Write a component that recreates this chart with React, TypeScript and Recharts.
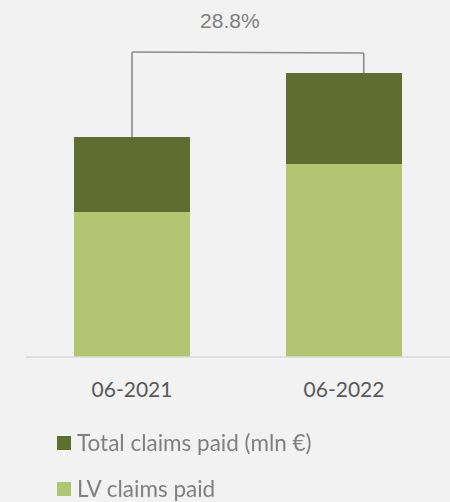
import React from "react";
import { BarChart, Bar, XAxis, YAxis, Legend } from "recharts";

const categories = ["06-2021", "06-2022"];
const lvClaimsPaid = [145, 193];
const totalClaimsPaidTop = [75, 91];
const growthLabel = "28.8%";
const bracketLevel = 305;

const seriesNames = {
  total: "Total claims paid (mln €)",
  lv: "LV claims paid",
};

const DARK = "#5F6D30";
const LIGHT = "#B3C473";
const GRAY = "#8C8C8C";

const data = categories.map((c, i) => ({
  category: c,
  lv: lvClaimsPaid[i],
  total: totalClaimsPaidTop[i],
}));

const W = 450;
const H = 502;
const AXIS_H = 30;
const MARGIN = { top: 57, right: 0, left: 26, bottom: 145 - AXIS_H };
const BAND = (W - MARGIN.left - MARGIN.right) / categories.length;

const BracketLabel = (props: any) => {
  const { x, y, width, height, index } = props;
  const segVal = totalClaimsPaidTop[index];
  const total = lvClaimsPaid[index] + segVal;
  const ppu = height / segVal;
  const by = y - (bracketLevel - total) * ppu;
  if (index === 0) {
    const cx = x + width / 2;
    return <line x1={cx} y1={y} x2={cx} y2={by} stroke={GRAY} strokeWidth={1.6} />;
  }
  const rx = x + width * 0.67;
  const lx = x + width / 2 - BAND;
  return (
    <g>
      <line x1={lx} y1={by} x2={rx} y2={by + 1} stroke={GRAY} strokeWidth={1.6} />
      <line x1={rx} y1={by + 1} x2={rx} y2={y} stroke={GRAY} strokeWidth={1.6} />
      <text
        x={(lx + rx) / 2 - 18}
        y={by - 24}
        textAnchor="middle"
        fill="#808080"
        fontFamily="Liberation Sans, Arial, sans-serif"
        fontSize={21}
      >
        {growthLabel}
      </text>
    </g>
  );
};

const LegendContent = () => {
  const items = [
    { name: seriesNames.total, color: DARK },
    { name: seriesNames.lv, color: LIGHT },
  ];
  return (
    <div>
      {items.map((it) => (
        <div
          key={it.name}
          style={{ display: "flex", alignItems: "center", height: 46, lineHeight: "24px", fontFamily: "Lato, sans-serif", fontSize: 22.5, color: "#7F7F7F" }}
        >
          <span style={{ display: "inline-block", width: 14, height: 14, background: it.color, marginRight: 6 }} />
          <span>{it.name}</span>
        </div>
      ))}
    </div>
  );
};

export default function App() {
  return (
    <div style={{ position: "fixed", left: 0, top: 0, width: W, height: H, background: "#F2F2F2" }}>
      <BarChart width={W} height={H} data={data} margin={MARGIN}>
        <XAxis
          dataKey="category"
          height={AXIS_H}
          tickLine={false}
          axisLine={{ stroke: "#D9D9D9", strokeWidth: 1.5 }}
          tickMargin={19}
          tick={{ fill: "#595959", fontSize: 21, fontFamily: "Lato, sans-serif" }}
          interval={0}
        />
        <YAxis hide domain={[0, 300]} allowDataOverflow />
        <Legend
          layout="vertical"
          align="center"
          verticalAlign="middle"
          content={<LegendContent />}
          wrapperStyle={{ position: "absolute", left: 57, top: 420, width: 380 }}
        />
        <Bar dataKey="lv" name={seriesNames.lv} stackId="a" fill={LIGHT} barSize={116} isAnimationActive={false} />
        <Bar
          dataKey="total"
          name={seriesNames.total}
          stackId="a"
          fill={DARK}
          barSize={116}
          isAnimationActive={false}
          label={<BracketLabel />}
        />
      </BarChart>
    </div>
  );
}
